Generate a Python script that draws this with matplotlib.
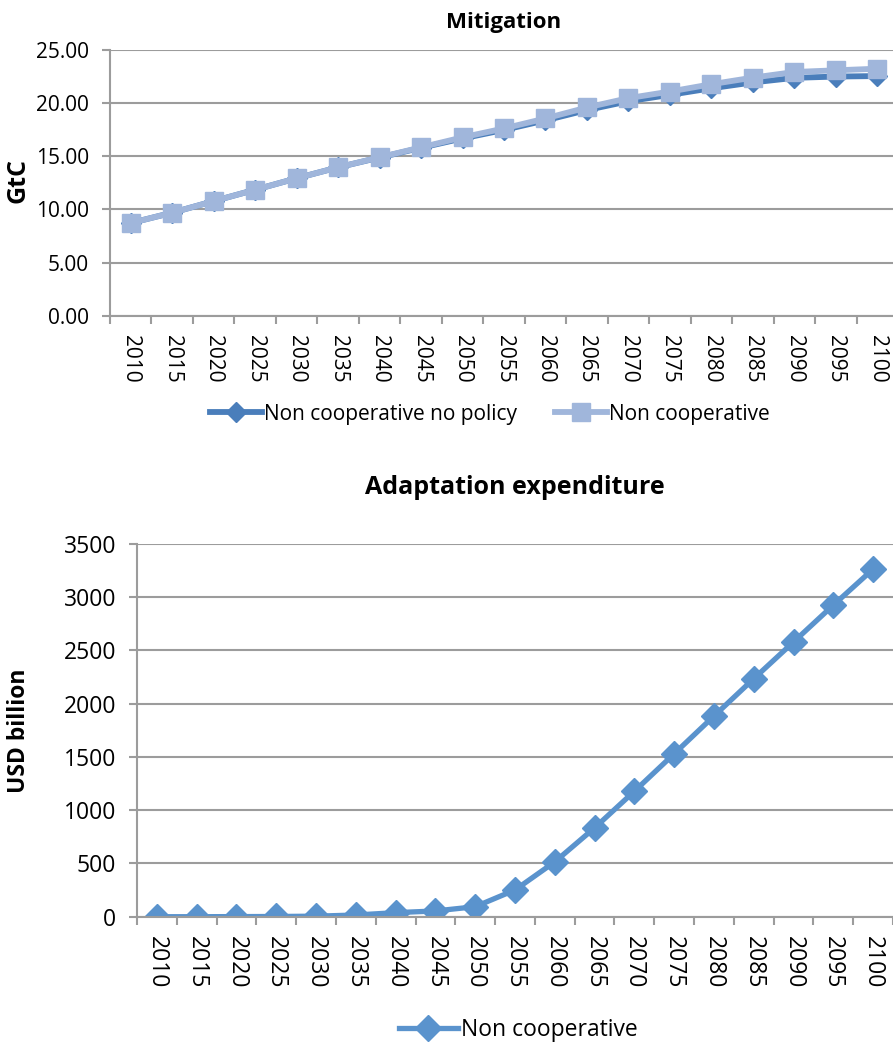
import matplotlib
matplotlib.use("Agg")
import matplotlib.pyplot as plt
from matplotlib.ticker import FixedLocator, NullFormatter, FixedFormatter

plt.rcParams['font.family'] = ['Open Sans', 'DejaVu Sans']

years = [str(y) for y in range(2010, 2101, 5)]

# Mitigation (GtC)
no_policy = [8.72, 9.69, 10.78, 11.85, 12.93, 13.96, 14.88, 15.80, 16.68, 17.48,
             18.38, 19.35, 20.18, 20.78, 21.40, 21.95, 22.38, 22.50, 22.55]
non_coop = [8.72, 9.69, 10.78, 11.85, 12.93, 13.96, 14.90, 15.84, 16.78, 17.62,
            18.56, 19.59, 20.47, 21.09, 21.78, 22.40, 22.93, 23.09, 23.24]

# Adaptation expenditure (USD billion)
adapt = [0, 0, 1, 2, 5, 16, 38, 54, 94, 251,
         515, 834, 1178, 1530, 1884, 2235, 2580, 2926, 3264]

dark = "#4A7EBB"
light = "#A0B6DB"
mid = "#5A93CD"
grid_c = "#9C9C9C"

W, H = 893, 1050
fig = plt.figure(figsize=(W / 100, H / 100), dpi=100)


def style_axes(ax, n, fs):
    ax.set_xlim(-0.5, n - 0.5)
    ax.xaxis.set_major_locator(FixedLocator([i - 0.5 for i in range(n + 1)]))
    ax.xaxis.set_major_formatter(NullFormatter())
    ax.xaxis.set_minor_locator(FixedLocator(list(range(n))))
    ax.xaxis.set_minor_formatter(FixedFormatter(years))
    ax.tick_params(axis='x', which='major', length=6, width=1.5, color=grid_c, direction='out')
    ax.tick_params(axis='x', which='minor', length=0, pad=14, labelsize=fs, labelrotation=-90)
    ax.tick_params(axis='y', length=6, width=1.5, color=grid_c, pad=9, labelsize=fs)
    for side in ['top', 'right']:
        ax.spines[side].set_visible(False)
    for side in ['left', 'bottom']:
        ax.spines[side].set_color(grid_c)
        ax.spines[side].set_linewidth(1.5)
    ax.yaxis.grid(True, color=grid_c, linewidth=1.5)
    ax.set_axisbelow(True)


# top chart
ax1 = fig.add_axes([110 / W, 1 - 315.7 / H, 788 / W, (315.7 - 50) / H])
x = list(range(len(years)))
ax1.plot(x, no_policy, color=dark, lw=4.2, marker='D', ms=10, label='Non cooperative no policy')
ax1.plot(x, non_coop, color=light, lw=4.2, marker='s', ms=13, label='Non cooperative')
ax1.set_ylim(0, 25)
ax1.set_yticks([0, 5, 10, 15, 20, 25])
ax1.set_yticklabels([f"{v:.2f}" for v in [0, 5, 10, 15, 20, 25]])
style_axes(ax1, len(years), 15)
ax1.set_title("Mitigation", fontsize=16, fontweight='bold', pad=16)
ax1.set_ylabel("GtC", fontsize=18, fontweight='bold')
ax1.yaxis.set_label_coords((31 - 110) / 788, 0.51)
ax1.legend(loc='center', bbox_to_anchor=(490 / W, 1 - 414 / H), bbox_transform=fig.transFigure,
           ncol=2, frameon=False, fontsize=15, handlelength=2.5, handletextpad=0.1,
           columnspacing=1.8)

# bottom chart
ax2 = fig.add_axes([137 / W, 1 - 916.7 / H, 756 / W, (916.7 - 544) / H])
ax2.plot(x, adapt, color=mid, lw=3.8, marker='D', ms=13, label='Non cooperative')
ax2.set_ylim(0, 3500)
ax2.set_yticks(range(0, 3501, 500))
style_axes(ax2, len(years), 16.5)
ax2.set_title("Adaptation expenditure", fontsize=18, fontweight='bold', pad=36)
ax2.set_ylabel("USD billion", fontsize=16.5, fontweight='bold')
ax2.yaxis.set_label_coords((31 - 137) / 756, 0.5)
ax2.legend(loc='center', bbox_to_anchor=(518 / W, 1 - 1030 / H), bbox_transform=fig.transFigure,
           frameon=False, fontsize=16.5, handlelength=2.6, handletextpad=0.1)

fig.savefig("out.png", dpi=100)
